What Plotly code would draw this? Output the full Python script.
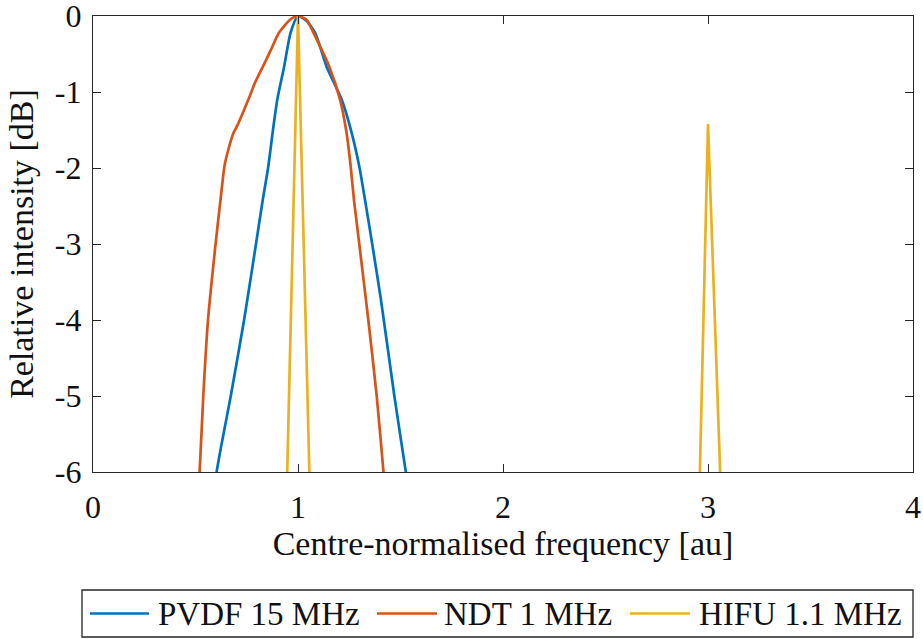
import plotly.graph_objects as go

# --- data ----------------------------------------------------------------
pvdf_x = [0.55, 0.603, 0.672, 0.737, 0.795, 0.828, 0.854, 0.876, 0.899, 0.932,
          0.964, 1.0, 1.04, 1.083, 1.14, 1.213, 1.262, 1.299, 1.327, 1.362,
          1.405, 1.47, 1.526, 1.58]
pvdf_y = [-7.3, -6.0, -5.0, -4.0, -3.0, -2.42, -2.0, -1.54, -1.1, -0.67,
          -0.22, 0.0, -0.06, -0.22, -0.67, -1.1, -1.54, -1.98, -2.42, -3.0,
          -3.74, -5.0, -6.0, -7.0]

ndt_x = [0.49, 0.52, 0.538, 0.561, 0.598, 0.622, 0.641, 0.66, 0.685, 0.701,
         0.758, 0.79, 0.828, 0.867, 0.907, 0.961, 0.995, 1.042, 1.075, 1.153,
         1.205, 1.237, 1.257, 1.273, 1.299, 1.343, 1.384, 1.417, 1.45]
ndt_y = [-7.3, -6.0, -5.0, -4.0, -3.0, -2.42, -1.98, -1.76, -1.54, -1.46,
         -1.1, -0.88, -0.67, -0.45, -0.22, -0.05, 0.0, -0.05, -0.22, -0.67,
         -1.1, -1.54, -1.98, -2.42, -3.0, -4.0, -5.0, -6.0, -7.0]

hifu_x = [0.0, 0.947, 1.0, 1.056, 2.0, 2.96, 3.0, 3.06, 4.0]
hifu_y = [-40, -6.05, 0.0, -6.05, -40, -6.05, -1.42, -6.05, -40]

x_ticks = [0, 1, 2, 3, 4]
y_ticks = [0, -1, -2, -3, -4, -5, -6]
y_tick_text = ["0", "-1", "-2", "-3", "-4", "-5", "-6"]

names = ["PVDF 15 MHz", "NDT 1 MHz", "HIFU 1.1 MHz"]
colors = ["#0072BD", "#D95319", "#EDB120"]
xs = [pvdf_x, ndt_x, hifu_x]
ys = [pvdf_y, ndt_y, hifu_y]
shapes_ = ["spline", "spline", "linear"]

FONT = "Liberation Serif"
AX = "#262626"
W, H = 923, 639
L, R, T, B = 93, 10, 16, 167          # plot box 93..913 x 16..472


def px(x):   # pixel -> paper x
    return (x - L) / (W - L - R)


def py(y):   # pixel -> paper y
    return (H - B - y) / (H - T - B)


fig = go.Figure()
for name, x, y, c, sh in zip(names, xs, ys, colors, shapes_):
    fig.add_trace(go.Scatter(x=x, y=y, mode="lines", name=name,
                             line=dict(color=c, width=2.7, shape=sh,
                                       smoothing=0.6 if sh == "spline" else None),
                             showlegend=False, hoverinfo="skip"))

axis = dict(showline=True, linecolor=AX, linewidth=1.3, mirror="ticks",
            ticks="inside", ticklen=8, tickcolor=AX, tickwidth=1.3,
            showgrid=False, zeroline=False, automargin=False,
            ticklabeloverflow="allow",
            tickfont=dict(family=FONT, size=32, color="#111111"))

fig.update_xaxes(range=[0, 4], tickvals=x_ticks, ticklabelstandoff=6,
                 title=dict(text="Centre-normalised frequency [au]",
                            font=dict(family=FONT, size=34, color="#111111"),
                            standoff=6),
                 **axis)
fig.update_yaxes(range=[-6, 0], tickvals=y_ticks, ticktext=y_tick_text,
                 ticklabelstandoff=4,
                 title=dict(text="Relative intensity [dB]",
                            font=dict(family=FONT, size=34, color="#111111"),
                            standoff=10),
                 **axis)

# legend drawn by hand so the sample lines match the reference length
shapes = [dict(type="rect", xref="paper", yref="paper",
               x0=px(82), x1=px(913), y0=py(637), y1=py(590),
               line=dict(color=AX, width=1.3), fillcolor="white")]
annotations = []
leg_y = py(613.5)
for (lx0, lx1, tx), name, c in zip([(90, 149, 156), (377, 437, 442), (630, 690, 697)],
                                   names, colors):
    shapes.append(dict(type="line", xref="paper", yref="paper",
                       x0=px(lx0), x1=px(lx1), y0=leg_y, y1=leg_y,
                       line=dict(color=c, width=2.7)))
    annotations.append(dict(text=name, xref="paper", yref="paper",
                            x=px(tx), y=leg_y, xanchor="left", yanchor="middle",
                            showarrow=False,
                            font=dict(family=FONT, size=33, color="#111111")))

fig.update_layout(
    width=W, height=H,
    margin=dict(l=L, r=R, t=T, b=B),
    paper_bgcolor="white", plot_bgcolor="white",
    font=dict(family=FONT, size=32, color="#111111"),
    shapes=shapes, annotations=annotations,
    showlegend=False,
)

# the page body has an 8px default margin; drop it so the figure fills the window
fig.write_html("out.html", config={"displayModeBar": False},
               post_script="document.body.style.margin='0';document.body.style.overflow='hidden';")
